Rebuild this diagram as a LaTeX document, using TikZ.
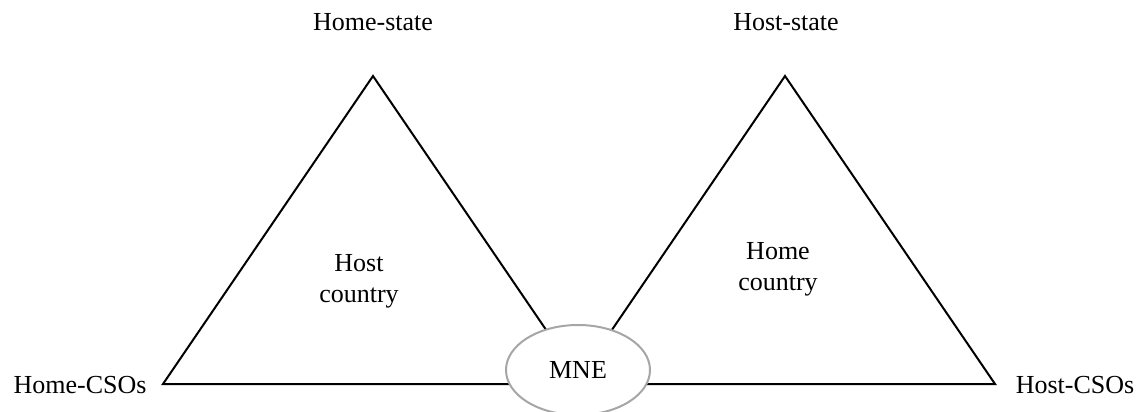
\documentclass[tikz,border=0pt]{standalone}
\usepackage{fontspec}
\setmainfont{Liberation Serif}
\usetikzlibrary{shapes.geometric}
\definecolor{ringgray}{HTML}{A6A6A6}
\begin{document}
\begin{tikzpicture}[x=1pt,y=-1pt,
  lbl/.style={font=\fontsize{26}{31}\selectfont, inner sep=0pt, anchor=base},
  edge/.style={draw=black, line width=2pt, line join=miter},
  firm/.style={ellipse, draw=ringgray, line width=2pt, fill=white,
    minimum width=144pt, minimum height=90pt, inner sep=0pt,
    font=\fontsize{26}{31}\selectfont}]
\useasboundingbox (0,0) rectangle (1136,412);

% left triangle
\coordinate (homeTop) at (373,76);
\coordinate (homeL) at (163,384);
\coordinate (homeR) at (583,384);
\draw[edge] (homeL) -- (homeTop) -- (homeR) -- cycle;

% right triangle
\coordinate (hostTop) at (785,76);
\coordinate (hostL) at (575,384);
\coordinate (hostR) at (995,384);
\draw[edge] (hostL) -- (hostTop) -- (hostR) -- cycle;

% the firm between both
\node[firm] (mne) at (578,370) {\raisebox{-2pt}{MNE}};

% labels (multi-line ones sit on the baseline of their last line)
\node[lbl] (homestate) at (373,31) {Home-state};
\node[lbl] (hoststate) at (786,31) {Host-state};
\node[lbl] (homecso) at (80,393) {Home-CSOs};
\node[lbl] (hostcso) at (1075,393) {Host-CSOs};
\node[lbl, align=center] (hostc) at (359,302) {Host\\country};
\node[lbl, align=center] (homec) at (778,290) {Home\\country};
\end{tikzpicture}
\end{document}
